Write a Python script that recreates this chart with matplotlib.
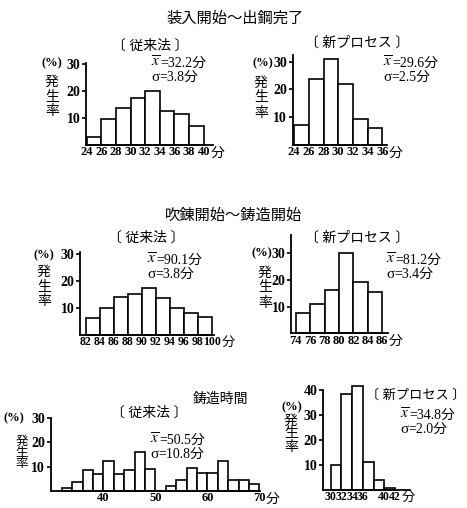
import matplotlib
matplotlib.use('Agg')
import matplotlib.pyplot as plt
from matplotlib.text import Annotation

plt.rcParams['font.family'] = ['Liberation Serif', 'Noto Sans CJK JP']
plt.rcParams['mathtext.fontset'] = 'stix'

# --- data (%, bin start, bin width 2) ---
p1_bins = [24, 26, 28, 30, 32, 34, 36, 38]
p1_vals = [3.1, 9.5, 13.6, 17.5, 19.8, 12.7, 11.5, 7.0]
p1_ticks = [24, 26, 28, 30, 32, 34, 36, 38, 40]

p2_bins = [24, 26, 28, 30, 32, 34]
p2_vals = [7.2, 23.7, 31.0, 22.0, 9.3, 6.0]
p2_ticks = [24, 26, 28, 30, 32, 34, 36]

p3_bins = [82, 84, 86, 88, 90, 92, 94, 96, 98]
p3_vals = [6.4, 9.9, 14.2, 15.4, 17.5, 13.8, 9.9, 8.3, 6.8]
p3_ticks = [82, 84, 86, 88, 90, 92, 94, 96, 98, 100]

p4_bins = [74, 76, 78, 80, 82, 84]
p4_vals = [7.7, 11.0, 16.1, 30.0, 19.1, 15.6]
p4_ticks = [74, 76, 78, 80, 82, 84, 86]

p5_bins = [32, 34, 36, 38, 40, 42, 44, 46, 48, 50, 52, 54, 56, 58, 60, 62, 64, 66, 68]
p5_vals = [1.1, 3.9, 8.6, 6.8, 12.5, 6.8, 8.6, 16.2, 8.9, 0, 2.0, 4.6, 9.3, 7.2, 7.2,
           12.4, 4.6, 4.6, 2.8]
p5_ticks = [40, 50, 60, 70]

p6_bins = [30, 32, 34, 36, 38, 40]
p6_vals = [9.9, 38.4, 41.5, 11.4, 4.2, 0.7]
p6_ticks = [30, 32, 34, 36, 40, 42]

W, H = 467, 508
fig = plt.figure(figsize=(W / 100, H / 100), dpi=100)


def ftext(x, y, s, **kw):
    kw.setdefault('ha', 'center')
    kw.setdefault('va', 'center')
    return fig.text(x / W, 1 - y / H, s, **kw)


def panel(left, right, top, base, xlim, ylim, bins, vals, ticks, yticks,
          sub, subxy, mean, sd, statxy, pctxy, ratexy, rate_dy, fs=9, subfs=10,
          ratefs=10):
    ax = fig.add_axes([left / W, 1 - base / H, (right - left) / W, (base - top) / H])
    ax.bar(bins, vals, width=2, align='edge', color='white', edgecolor='black',
           linewidth=1.2, clip_on=False)
    ax.set_xlim(*xlim)
    ax.set_ylim(*ylim)
    for s in ['top', 'right']:
        ax.spines[s].set_visible(False)
    ax.spines['left'].set_linewidth(1.3)
    ax.spines['bottom'].set_linewidth(1.3)
    ax.set_yticks(yticks)
    ax.set_yticklabels([str(v) for v in yticks], fontsize=10, fontweight='bold')
    ax.set_xticks(ticks)
    ax.set_xticklabels([str(v) for v in ticks], fontsize=fs, fontweight='bold')
    ax.tick_params(axis='x', length=0, pad=1)
    ax.tick_params(axis='y', length=3, width=1.2, direction='out', pad=1)
    ax.annotate('分', xy=(ticks[-1], 0), xycoords=('data', 'axes fraction'),
                xytext=(2.4 * len(str(ticks[-1])), -1), textcoords='offset points',
                ha='left', va='top', fontsize=fs + 1)
    ftext(subxy[0], subxy[1], sub, fontsize=subfs)
    # stats: overlined x (mathtext) / sigma, followed by plain text
    for k, (head, tail) in enumerate([(r'$\overline{x}$', '=' + mean + '分'),
                                      ('σ', '=' + sd + '分')]):
        t = ftext(statxy[0], statxy[1] + 14 * k, head, ha='left', va='baseline',
                  fontsize=11)
        fig.add_artist(Annotation(tail, xy=(1, 0), xycoords=t,
                                  xytext=(0, 0), textcoords='offset points',
                                  ha='left', va='bottom', fontsize=10))
    ftext(pctxy[0], pctxy[1], '(%)', fontsize=9, fontweight='bold')
    for i, ch in enumerate('発生率'):
        ftext(ratexy[0], ratexy[1] + i * rate_dy, ch, fontsize=ratefs)
    return ax


ftext(235, 18, '装入開始～出鋼完了', fontsize=11)
ftext(233, 216, '吹錬開始～鋳造開始', fontsize=11)
ftext(220, 399, '鋳造時間', fontsize=10)

panel(86, 212.5, 63, 145, (23.9, 41.2), (0, 30.3), p1_bins, p1_vals, p1_ticks,
      [10, 20, 30], '〔 従来法 〕', (150, 46), '32.2', '3.8', (151, 67),
      (52, 63), (52, 82), 15)
panel(292.7, 386.7, 55, 145, (23.8, 36.6), (0, 32.4), p2_bins, p2_vals, p2_ticks,
      [10, 20, 30], '〔 新プロセス 〕', (357, 43), '29.6', '2.5', (383, 67),
      (263, 63), (261, 83), 15)
panel(80, 214, 252, 335, (81.15, 100.3), (0, 30.8), p3_bins, p3_vals, p3_ticks,
      [10, 20, 30], '〔 従来法 〕', (146, 238), '90.1', '3.8', (147, 264),
      (44, 255), (44, 272), 15, fs=8.5)
panel(291, 388, 235, 333.3, (73.35, 86.8), (0, 36.8), p4_bins, p4_vals, p4_ticks,
      [10, 20, 30], '〔 新プロセス 〕', (357, 238), '81.2', '3.4', (386, 264),
      (262, 253), (265, 273), 15)
panel(50.7, 260, 418, 491, (29.88, 70.1), (0, 30), p5_bins, p5_vals, p5_ticks,
      [10, 20, 30], '〔 従来法 〕', (149, 413), '50.5', '10.8', (150, 444),
      (14, 418), (22, 442), 11, ratefs=9)
panel(323.3, 410, 390, 490, (28.6, 44.8), (0, 40), p6_bins, p6_vals, p6_ticks,
      [10, 20, 30, 40], '〔 新プロセス 〕', (416, 395), '34.8', '2.0', (400, 419),
      (292, 407), (291, 421), 13, fs=8.5, subfs=9.5)

fig.savefig('out.png', dpi=100)
